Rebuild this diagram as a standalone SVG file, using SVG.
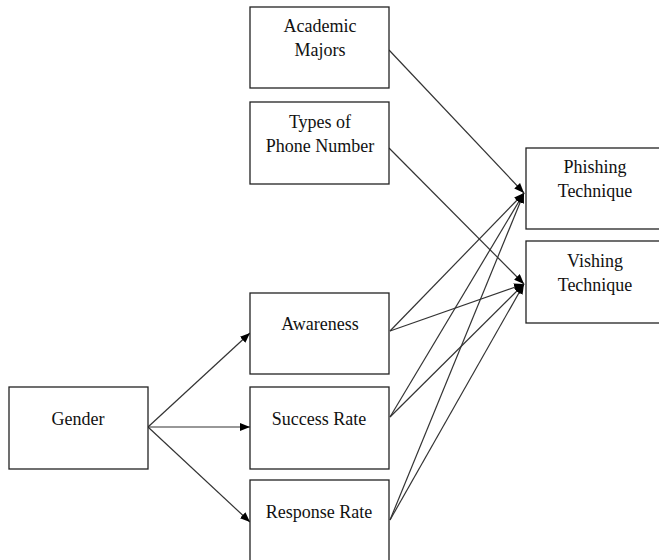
<svg xmlns="http://www.w3.org/2000/svg" width="659" height="560" viewBox="0 0 659 560">
<style>
.box{fill:#fff;stroke:#222;stroke-width:1.3}
.t{font-family:"Liberation Serif","Times New Roman",serif;font-size:18px;fill:#111;text-anchor:middle}
.c{stroke:#333;stroke-width:1.2;fill:none;marker-end:url(#ah)}
</style>
<defs>
<marker id="ah" viewBox="0 0 10 8" refX="10" refY="4" markerWidth="10" markerHeight="8" markerUnits="userSpaceOnUse" orient="auto">
<path d="M0,0 L10,4 L0,8 z" fill="#000"/>
</marker>
</defs>
<rect width="659" height="560" fill="#fff"/>
<g id="connectors">
<line class="c" x1="148" y1="427" x2="250" y2="333"/>
<line class="c" x1="148" y1="427" x2="250" y2="427"/>
<line class="c" x1="148" y1="427" x2="250" y2="522"/>
<line class="c" x1="389" y1="50" x2="524" y2="193"/>
<line class="c" x1="389" y1="148" x2="524" y2="284"/>
<line class="c" x1="390" y1="331" x2="524" y2="193"/>
<line class="c" x1="390" y1="331" x2="524" y2="284"/>
<line class="c" x1="390" y1="417" x2="524" y2="193"/>
<line class="c" x1="390" y1="417" x2="524" y2="284"/>
<line class="c" x1="390" y1="520" x2="524" y2="193"/>
<line class="c" x1="390" y1="520" x2="524" y2="284"/>
</g>
<g id="academic-majors"><rect class="box" x="250" y="7" width="139" height="81"/><text class="t" x="320" y="32">Academic</text><text class="t" x="320" y="56">Majors</text></g>
<g id="types-of-phone-number"><rect class="box" x="250" y="102" width="139" height="82"/><text class="t" x="320" y="128">Types of</text><text class="t" x="320" y="152">Phone Number</text></g>
<g id="phishing-technique"><rect class="box" x="526" y="148" width="140" height="81"/><text class="t" x="595" y="173">Phishing</text><text class="t" x="595" y="197">Technique</text></g>
<g id="vishing-technique"><rect class="box" x="526" y="241" width="140" height="82"/><text class="t" x="595" y="267">Vishing</text><text class="t" x="595" y="291">Technique</text></g>
<g id="awareness"><rect class="box" x="250" y="293" width="139" height="81"/><text class="t" x="320" y="330">Awareness</text></g>
<g id="success-rate"><rect class="box" x="250" y="387" width="139" height="82"/><text class="t" x="319" y="425">Success Rate</text></g>
<g id="response-rate"><rect class="box" x="250" y="480" width="139" height="90"/><text class="t" x="319" y="518">Response Rate</text></g>
<g id="gender"><rect class="box" x="9" y="387" width="139" height="82"/><text class="t" x="78" y="425">Gender</text></g>
</svg>
